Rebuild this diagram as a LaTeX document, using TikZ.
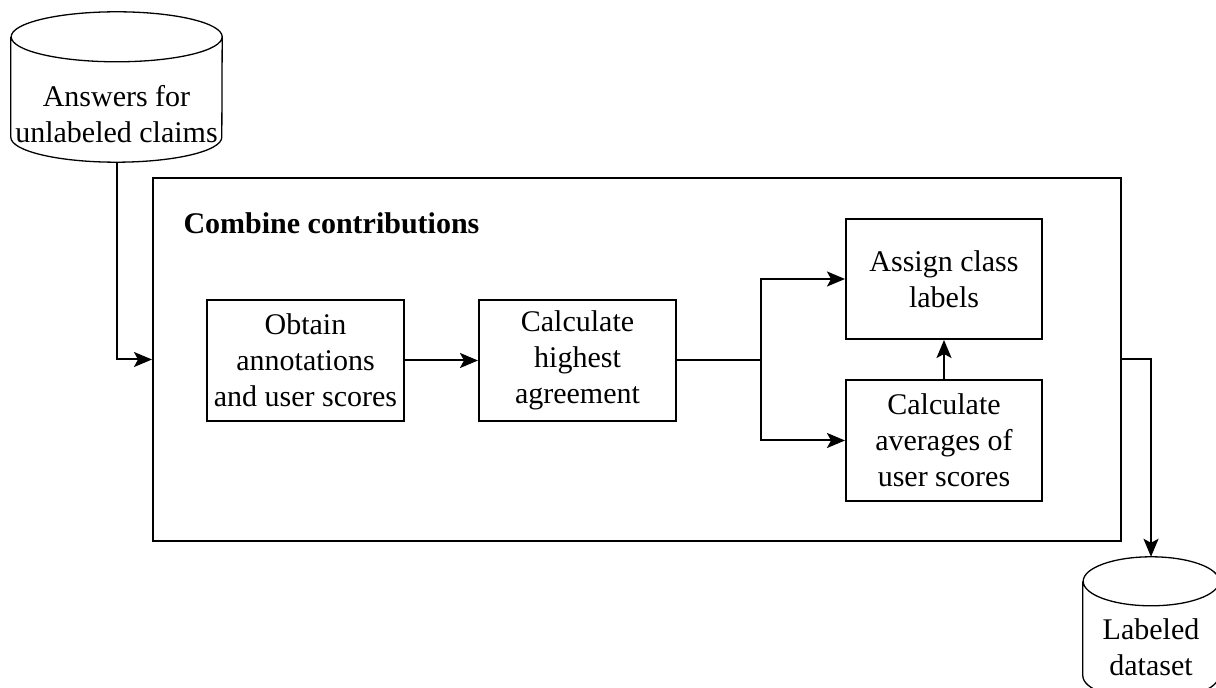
\documentclass[tikz,border=0pt]{standalone}
\usepackage{fontspec}
\setmainfont{Liberation Serif}
\usetikzlibrary{arrows.meta}

% outline of a database drum round an empty node: name, x radius, y radius
\newcommand{\dbdraw}[3]{%
  \draw[line width=1.3pt] ([yshift=-#3]#1.north west) -- ([yshift=#3]#1.south west)
    arc[start angle=180,end angle=360,x radius=#2,y radius=#3]
    -- ([yshift=-#3]#1.north east)
    arc[start angle=0,end angle=360,x radius=#2,y radius=#3];}

\begin{document}
\begin{tikzpicture}[x=1pt,y=1pt,
  font=\fontsize{30}{36}\selectfont,
  arr/.style={line width=2pt,-{Stealth[length=18pt,width=15pt,inset=4pt]}},
  stepbox/.style={draw,line width=2pt,align=center,minimum width=197pt,minimum height=121pt,inner sep=0pt},
  dbbox/.style={inner sep=0pt}]
\useasboundingbox (0,0) rectangle (1216,688);
% Input
\node[dbbox,minimum width=211pt,minimum height=150pt] (ans) at (116.5,601) {};
\dbdraw{ans}{105.5pt}{25pt}
\node[align=center] (anstext) at (116.5,574) {Answers for\\unlabeled claims};
% Frame
\node[draw,line width=2pt,minimum width=968pt,minimum height=363pt] (comb) at (637,328.5) {};
\node[anchor=base west] (title) at (180,454) {\textbf{Combine contributions}};
% Steps
\node[stepbox] (obt) at (305.5,327.5) {Obtain\\annotations\\and user scores};
\node[stepbox] (hig) at (577.5,327.5) {Calculate\\highest\\agreement};
\node[stepbox,minimum width=196pt,minimum height=120pt] (asg) at (944,409) {Assign class\\labels};
\node[stepbox,minimum width=196pt] (avg) at (944,247.5) {Calculate\\averages of\\user scores};
% Output
\node[dbbox,minimum width=136pt,minimum height=143pt] (lab) at (1151,59.5) {};
\dbdraw{lab}{68pt}{24.5pt}
\node[align=center] (labtext) at (1151,40.5) {Labeled\\dataset};
% Arrows
\coordinate (split) at (761,327.5);
\draw[arr] (ans.south) |- (comb.west);
\draw[arr] (obt) -- (hig);
\draw[line width=2pt] (hig.east) -- (split);
\draw[arr] (split) |- (asg.west);
\draw[arr] (split) |- (avg.west);
\draw[arr] (avg) -- (asg);
\draw[arr] (comb.east) -| (lab.north);
\end{tikzpicture}
\end{document}
